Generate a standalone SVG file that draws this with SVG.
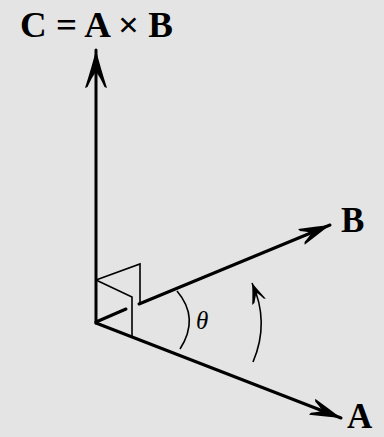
<svg xmlns="http://www.w3.org/2000/svg" width="384" height="437" viewBox="0 0 384 437">
<defs>
<style>
.ax{stroke:#000;stroke-width:3;fill:none;stroke-linecap:round}
.thin{stroke:#000;stroke-width:1.6;fill:none;stroke-linejoin:miter}
.lbl{font-family:"Liberation Serif","Times New Roman",serif;font-weight:bold;font-size:35px;fill:#000}
.th{font-family:"Liberation Serif","Times New Roman",serif;font-style:italic;font-size:25px;fill:#000}
</style>
<marker id="big" viewBox="-32 -9 34 18" markerUnits="userSpaceOnUse" markerWidth="34" markerHeight="18" refX="0" refY="0" orient="auto" overflow="visible">
<path d="M0,0 Q-14,-4 -31,-8.5 L-30,-6 Q-24,-3 -20,0 Q-24,3 -30,6 L-31,8.5 Q-14,4 0,0 Z" fill="#000"/>
</marker>
<marker id="cm" viewBox="-40 -12 42 24" markerUnits="userSpaceOnUse" markerWidth="42" markerHeight="24" refX="0" refY="0" orient="auto" overflow="visible">
<path d="M0,0 Q-16,-4 -38,-11 L-37,-8.5 Q-26,-3.5 -22,0 Q-26,3.5 -37,8.5 L-38,11 Q-16,4 0,0 Z" fill="#000"/>
</marker>
<marker id="sm" viewBox="-22 -9 24 18" markerUnits="userSpaceOnUse" markerWidth="24" markerHeight="18" refX="0" refY="0" orient="auto" overflow="visible">
<path d="M0,0 Q-8,-3 -20,-9 L-19,-6 Q-13,-2 -11,0 Q-13,2 -19,4 L-20,6 Q-9,2.5 0,0 Z" fill="#000"/>
</marker>
</defs>
<rect width="384" height="437" fill="#e4e4e4"/>
<g id="connectors">
<path id="axis-C" class="ax" d="M96,323 L96,50" marker-end="url(#cm)"/>
<path id="axis-A" class="ax" d="M96,323 L341,418" marker-end="url(#big)"/>
<path id="axis-B-near" class="ax" d="M96,322 L126,309"/>
<path id="axis-B" class="ax" d="M139,304 L330,225" marker-end="url(#big)"/>
</g>
<g id="right-angle">
<path class="thin" d="M96,280 L140,264 L140,304"/>
<path class="thin" d="M96,280 L132,297 L132,336"/>
</g>
<g id="angle-theta">
<path class="thin" d="M177,291 Q200,318 180,349"/>
<text class="th" x="196" y="329">θ</text>
</g>
<g id="rotation-arrow">
<path class="thin" stroke-width="2" d="M253,362 Q270,322 252,283" marker-end="url(#sm)"/>
</g>
<g id="label-C">
<text class="lbl" x="20" y="37" textLength="153" lengthAdjust="spacingAndGlyphs">C = A × B</text>
</g>
<g id="label-B">
<text class="lbl" x="341" y="232">B</text>
</g>
<g id="label-A">
<text class="lbl" x="347" y="428">A</text>
</g>
</svg>
